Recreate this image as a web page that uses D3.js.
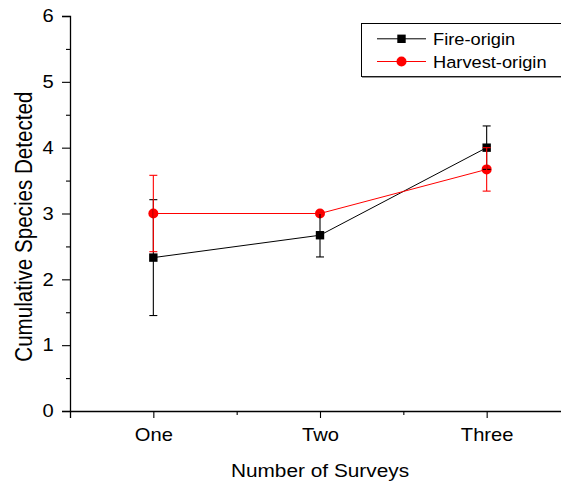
<!DOCTYPE html>
<html>
<head>
<meta charset="utf-8">
<script src="https://cdn.jsdelivr.net/npm/d3@7"></script>
<style>
  html, body { margin: 0; padding: 0; background: #fff; }
  svg { display: block; font-family: "Liberation Sans", Arial, sans-serif; }
</style>
</head>
<body>
<svg id="chart" width="561" height="485"></svg>
<script>
// Survey effort categories
const categories = ["One", "Two", "Three"];
const categoryPos = [1, 2, 3];

// Cumulative species detected (mean) and error half-widths
const fireMean = [2.33, 2.67, 4.0];
const fireErr = [0.88, 0.33, 0.33];
const harvestMean = [3.0, 3.0, 3.67];
const harvestErr = [0.58, 0.0, 0.33];

const yTicks = [0, 1, 2, 3, 4, 5, 6];
const yMinorTicks = [0.5, 1.5, 2.5, 3.5, 4.5, 5.5];
const xMinorTicks = [1.5, 2.5];

// Glyphs are drawn slightly wide
const SX = 1.12;
const FONT = "Liberation Sans, Arial, sans-serif";

const svg = d3.select("#chart");

const x = d3.scaleLinear().domain([0.5, 3.5]).range([70, 570]);
const y = d3.scaleLinear().domain([0, 6]).range([411, 16]);

// Y axis: major ticks with labels, minor ticks without
svg.append("g")
  .attr("transform", `translate(${x(0.5)},0)`)
  .call(d3.axisLeft(y).tickValues(yTicks).tickFormat(d3.format("d")).tickSize(8).tickPadding(6.5))
  .call(g => g.select(".domain").attr("stroke", "#000").attr("stroke-width", 1.3))
  .call(g => g.selectAll(".tick line").attr("stroke", "#000").attr("stroke-width", 1.1))
  .call(g => g.selectAll(".tick text").attr("font-size", 18).attr("fill", "#000")
    .attr("font-family", FONT).attr("transform", `scale(${SX},1)`));

svg.append("g")
  .attr("transform", `translate(${x(0.5)},0)`)
  .call(d3.axisLeft(y).tickValues(yMinorTicks).tickFormat("").tickSize(4))
  .call(g => g.select(".domain").remove())
  .call(g => g.selectAll(".tick line").attr("stroke", "#000").attr("stroke-width", 1.1));

// X axis: category ticks with labels, minor ticks between
svg.append("g")
  .attr("transform", `translate(0,${y(0)})`)
  .call(d3.axisBottom(x).tickValues(categoryPos).tickFormat((d, i) => categories[i]).tickSize(7).tickPadding(10))
  .call(g => g.select(".domain").attr("stroke", "#000").attr("stroke-width", 1.3))
  .call(g => g.selectAll(".tick line").attr("stroke", "#000").attr("stroke-width", 1.1))
  .call(g => g.selectAll(".tick text").attr("font-size", 18).attr("fill", "#000")
    .attr("font-family", FONT).attr("transform", `scale(${SX},1)`));

svg.append("g")
  .attr("transform", `translate(0,${y(0)})`)
  .call(d3.axisBottom(x).tickValues(xMinorTicks).tickFormat("").tickSize(4))
  .call(g => g.select(".domain").remove())
  .call(g => g.selectAll(".tick line").attr("stroke", "#000").attr("stroke-width", 1.1));

// Axis titles
svg.append("text")
  .attr("transform", `translate(${x(2)},476.5) scale(${SX},1)`)
  .attr("text-anchor", "middle")
  .attr("font-size", 18.6)
  .text("Number of Surveys");

svg.append("text")
  .attr("transform", `translate(31.5,226.7) scale(${SX},1) rotate(-90)`)
  .attr("text-anchor", "middle")
  .attr("font-size", 20.6)
  .text("Cumulative Species Detected");

// Series definitions
const series = [
  { name: "Fire-origin", mean: fireMean, err: fireErr, color: "#000", shape: "square" },
  { name: "Harvest-origin", mean: harvestMean, err: harvestErr, color: "#ff0000", shape: "circle" }
];

const line = d3.line().x((d, i) => x(categoryPos[i])).y(d => y(d));

function drawMarker(g, shape, color, cx, cy) {
  if (shape === "square") {
    g.append("rect")
      .attr("x", cx - 4.2).attr("y", cy - 4.2)
      .attr("width", 8.4).attr("height", 8.4)
      .attr("fill", color);
  } else {
    g.append("circle")
      .attr("cx", cx).attr("cy", cy).attr("r", 5)
      .attr("fill", color);
  }
}

// Connecting lines
series.forEach(s => {
  svg.append("path")
    .datum(s.mean)
    .attr("d", line)
    .attr("fill", "none")
    .attr("stroke", s.color)
    .attr("stroke-width", 1);
});

// Markers
series.forEach(s => {
  const g = svg.append("g");
  s.mean.forEach((m, i) => drawMarker(g, s.shape, s.color, x(categoryPos[i]), y(m)));
});

// Error bars drawn above the markers
series.forEach(s => {
  const g = svg.append("g").attr("stroke", s.color).attr("stroke-width", 1.1);
  s.mean.forEach((m, i) => {
    const cx = x(categoryPos[i]);
    const top = y(m + s.err[i]);
    const bot = y(m - s.err[i]);
    g.append("line").attr("x1", cx).attr("x2", cx).attr("y1", top).attr("y2", bot);
    g.append("line").attr("x1", cx - 4).attr("x2", cx + 4).attr("y1", top).attr("y2", top);
    g.append("line").attr("x1", cx - 4).attr("x2", cx + 4).attr("y1", bot).attr("y2", bot);
  });
});

// Legend
const legend = svg.append("g");
legend.append("rect")
  .attr("x", 361.5).attr("y", 23.5)
  .attr("width", 201).attr("height", 53)
  .attr("fill", "#fff")
  .attr("stroke", "#000").attr("stroke-width", 1);
legend.append("line")
  .attr("x1", 362).attr("x2", 562).attr("y1", 77).attr("y2", 77)
  .attr("stroke", "#333").attr("stroke-width", 1);

series.forEach((s, i) => {
  const ly = 38.8 + i * 22.7;
  legend.append("line")
    .attr("x1", 377).attr("x2", 426).attr("y1", ly).attr("y2", ly)
    .attr("stroke", s.color).attr("stroke-width", 1);
  drawMarker(legend, s.shape, s.color, 401.5, ly);
  legend.append("text")
    .attr("transform", `translate(433,${ly + 6}) scale(${SX},1)`)
    .attr("font-size", 16.3)
    .text(s.name);
});
</script>
</body>
</html>
